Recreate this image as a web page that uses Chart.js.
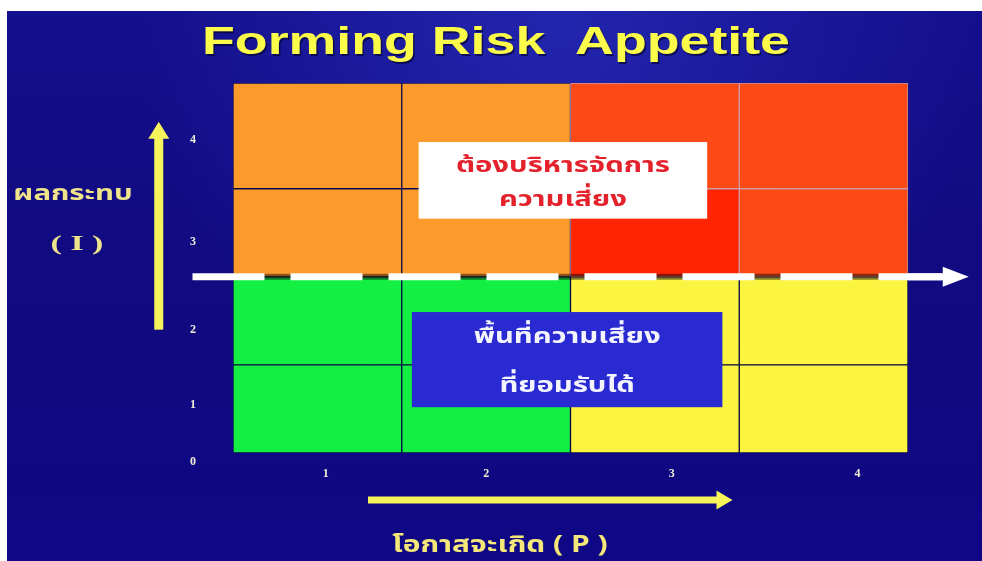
<!DOCTYPE html>
<html>
<head>
<meta charset="utf-8">
<script src="https://cdn.jsdelivr.net/npm/chart.js@4.4.1/dist/chart.umd.min.js"></script>
<style>
  html, body { margin: 0; padding: 0; background: #fff; overflow: hidden; }
  #wrap { position: relative; width: 982px; height: 561px; }
</style>
</head>
<body>
<div id="wrap"><canvas id="riskchart"></canvas></div>
<script>
// likelihood (P) columns, impact (I) rows from bottom to top
var likelihood = ['1', '2', '3', '4'];
var impactRows = ['1', '2', '3', '4'];
var rowHeights = [1, 1, 1, 1.2];
var cellColors = [
  ['#14ef44', '#14ef44', '#fbf542', '#fbf542'],
  ['#14ef44', '#14ef44', '#fbf542', '#fbf542'],
  ['#fd9a2c', '#fd9a2c', '#ff2402', '#fb4a16'],
  ['#fd9a2c', '#fd9a2c', '#fb4a16', '#fb4a16']
];
var xTickValues = [0.55, 1.5, 2.6, 3.7];
var xTickLabels = ['1', '2', '3', '4'];
var yTickValues = [-0.1, 0.55, 1.4, 2.4, 3.55];
var yTickLabels = ['0', '1', '2', '3', '4'];
var appetiteLine = 2;

var thaiFont = '"Noto Sans Thai", "Noto Sans", "DejaVu Sans", sans-serif';

function lineColor(c) {
  return (c == '#ff2402' || c == '#fb4a16') ? 'rgba(255,190,170,0.75)' : 'rgba(0,0,0,0.42)';
}

var datasets = impactRows.map(function (r, i) {
  return {
    label: 'I' + r,
    data: likelihood.map(function () { return rowHeights[i]; }),
    backgroundColor: cellColors[i],
    borderColor: cellColors[i].map(lineColor),
    borderWidth: 1,
    borderSkipped: false,
    barPercentage: 1,
    categoryPercentage: 1
  };
});

function arrow(ctx, x0, y0, x1, y1, w, headLen, headW, color) {
  var ang = Math.atan2(y1 - y0, x1 - x0);
  var len = Math.hypot(x1 - x0, y1 - y0);
  ctx.save();
  ctx.translate(x0, y0);
  ctx.rotate(ang);
  ctx.fillStyle = color;
  ctx.fillRect(0, -w / 2, len - headLen + 1, w);
  ctx.beginPath();
  ctx.moveTo(len, 0);
  ctx.lineTo(len - headLen, -headW / 2);
  ctx.lineTo(len - headLen, headW / 2);
  ctx.closePath();
  ctx.fill();
  ctx.restore();
}

// text squeezed/stretched horizontally, the slide font is wider
function wideText(ctx, txt, cx, y, sx) {
  ctx.save();
  ctx.translate(cx, y);
  ctx.scale(sx, 1);
  ctx.textAlign = 'center';
  ctx.fillText(txt, 0, 0);
  ctx.restore();
}

var backdrop = {
  id: 'backdrop',
  beforeDraw: function (chart) {
    var ctx = chart.ctx;
    ctx.save();
    ctx.fillStyle = '#ffffff';
    ctx.fillRect(0, 0, chart.width, chart.height);
    var g = ctx.createLinearGradient(0, 11, 0, chart.height);
    g.addColorStop(0, '#140f8c');
    g.addColorStop(0.5, '#110a80');
    g.addColorStop(1, '#0f0784');
    ctx.fillStyle = g;
    ctx.fillRect(7, 11, chart.width - 7, chart.height - 11);
    var r = ctx.createRadialGradient(560, 30, 10, 560, 30, 420);
    r.addColorStop(0, 'rgba(45,55,200,0.55)');
    r.addColorStop(1, 'rgba(45,55,200,0)');
    ctx.fillStyle = r;
    ctx.fillRect(7, 11, chart.width - 7, chart.height - 11);

    // title, stretched like the slide
    ctx.font = 'bold 39px "Liberation Sans", Arial, sans-serif';
    var txt = 'Forming Risk  Appetite';
    var tw = ctx.measureText(txt).width;
    ctx.textBaseline = 'alphabetic';
    ctx.fillStyle = 'rgba(0,0,40,0.6)';
    wideText(ctx, txt, 497.5, 55.5, 588 / tw);
    ctx.fillStyle = '#fbfb4a';
    wideText(ctx, txt, 496, 54, 588 / tw);
    ctx.restore();
  }
};

var overlay = {
  id: 'overlay',
  afterDatasetsDraw: function (chart) {
    var ctx = chart.ctx;
    var xs = chart.scales.x2, ys = chart.scales.y;
    var px = function (v) { return xs.getPixelForValue(v); };
    var py = function (v) { return ys.getPixelForValue(v); };
    var area = chart.chartArea;
    ctx.save();

    // appetite line: dark base, white dashes, arrow head
    var ly = py(appetiteLine);
    ctx.fillStyle = 'rgba(0,0,0,0.45)';
    ctx.fillRect(area.left, ly - 3, area.right - area.left, 6);
    ctx.strokeStyle = '#ffffff';
    ctx.lineWidth = 7;
    ctx.setLineDash([72, 26]);
    ctx.beginPath();
    ctx.moveTo(px(-0.24), ly);
    ctx.lineTo(px(4.2), ly);
    ctx.stroke();
    ctx.setLineDash([]);
    arrow(ctx, px(4.0), ly, px(4.36), ly, 7, 26, 20, '#ffffff');

    // white box
    var wx0 = px(1.1), wx1 = px(2.81), wy0 = py(3.53), wy1 = py(2.66);
    ctx.fillStyle = '#ffffff';
    ctx.fillRect(wx0, wy0, wx1 - wx0, wy1 - wy0);
    ctx.fillStyle = '#e4222c';
    ctx.font = 'bold 22px ' + thaiFont;
    ctx.textBaseline = 'alphabetic';
    wideText(ctx, 'ต้องบริหารจัดการ', (wx0 + wx1) / 2, wy0 + 30, 1.33);
    wideText(ctx, 'ความเสี่ยง', (wx0 + wx1) / 2, wy0 + 64, 1.33);

    // blue box
    var bx0 = px(1.06), bx1 = px(2.9), by0 = py(1.6), by1 = py(0.52);
    ctx.fillStyle = '#2a2ad2';
    ctx.fillRect(bx0, by0, bx1 - bx0, by1 - by0);
    ctx.fillStyle = '#f4f4ff';
    wideText(ctx, 'พื้นที่ความเสี่ยง', (bx0 + bx1) / 2, by0 + 31, 1.33);
    wideText(ctx, 'ที่ยอมรับได้', (bx0 + bx1) / 2, by0 + 80, 1.33);

    // axis arrows
    arrow(ctx, px(-0.44), py(1.4), px(-0.44), py(3.76), 9, 17, 21, '#f7f35a');
    arrow(ctx, px(0.8), 500, px(2.96), 500, 7, 16, 19, '#f7f35a');

    // axis titles
    ctx.fillStyle = '#efe48a';
    ctx.textBaseline = 'middle';
    ctx.font = 'bold 21px ' + thaiFont;
    wideText(ctx, 'ผลกระทบ', 73, 196, 1.4);
    ctx.font = 'bold 20px "Liberation Serif", serif';
    wideText(ctx, '( I )', 77, 245, 1.7);
    ctx.fillStyle = '#f5e878';
    ctx.font = 'bold 23px ' + thaiFont;
    wideText(ctx, 'โอกาสจะเกิด ( P )', 500, 547, 1.3);
    ctx.restore();
  }
};

new Chart(document.getElementById('riskchart'), {
  type: 'bar',
  data: { labels: likelihood, datasets: datasets },
  options: {
    responsive: true,
    maintainAspectRatio: false,
    animation: false,
    layout: { padding: { left: 0, right: 74, top: 83, bottom: 0 } },
    plugins: { legend: { display: false }, tooltip: { enabled: false } },
    scales: {
      x: { type: 'category', stacked: true, display: false },
      x2: {
        type: 'linear', position: 'bottom', min: 0, max: 4, offset: false,
        grid: { display: false, drawTicks: false, offset: false },
        border: { display: false },
        afterBuildTicks: function (s) { s.ticks = xTickValues.map(function (v) { return { value: v }; }); },
        afterFit: function (s) { s.height = 108; },
        ticks: {
          autoSkip: false, maxRotation: 0, padding: 14, color: '#efedd6',
          font: { family: '"Liberation Serif", serif', size: 12, weight: 'bold' },
          callback: function (v, i) { return xTickLabels[i]; }
        }
      },
      y: {
        stacked: true, min: 0, max: 4.2,
        grid: { display: false, drawTicks: false },
        border: { display: false },
        afterBuildTicks: function (s) { s.ticks = yTickValues.map(function (v) { return { value: v }; }); },
        afterFit: function (s) { s.width = 233; },
        ticks: {
          autoSkip: false, padding: 37, color: '#efedd6',
          font: { family: '"Liberation Serif", serif', size: 12, weight: 'bold' },
          callback: function (v, i) { return yTickLabels[i]; }
        }
      }
    }
  },
  plugins: [backdrop, overlay]
});
</script>
</body>
</html>
